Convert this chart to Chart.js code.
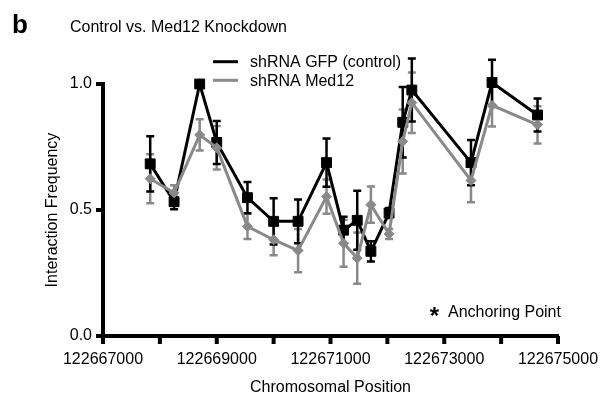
<!DOCTYPE html>
<html>
<head>
<meta charset="utf-8">
<script src="https://cdn.jsdelivr.net/npm/chart.js@4.4.0/dist/chart.umd.min.js"></script>
<style>
  html, body { margin:0; padding:0; background:#fff; }
</style>
</head>
<body>
<canvas id="chart" width="603" height="398"></canvas>
<script>
// values (chromosomal position, mean, SEM)
const positions   = [122667830, 122668250, 122668700, 122669000, 122669540, 122670000, 122670430, 122670930,
                     122671230, 122671470, 122671710, 122672030, 122672270, 122672430, 122673470, 122673840, 122674640];
const controlMean = [0.683, 0.533, 1.0, 0.768, 0.549, 0.455, 0.455, 0.688, 0.42, 0.459, 0.336, 0.488, 0.848, 0.976, 0.688, 1.006, 0.877];
const controlSem  = [0.11, 0.03, 0.01, 0.085, 0.062, 0.092, 0.087, 0.096, 0.053, 0.117, 0.04, 0.02, 0.14, 0.125, 0.09, 0.09, 0.065];
const med12Mean   = [0.624, 0.568, 0.798, 0.747, 0.435, 0.382, 0.339, 0.553, 0.368, 0.309, 0.521, 0.405, 0.772, 0.926, 0.617, 0.915, 0.838];
const med12Sem    = [0.097, 0.03, 0.062, 0.086, 0.05, 0.062, 0.086, 0.068, 0.093, 0.102, 0.072, 0.02, 0.127, 0.12, 0.086, 0.084, 0.074];
const xLabelStep = 2000;
const yTicks = [0, 0.5, 1.0];

const FONT = '"Liberation Sans", Arial, sans-serif';
const GREY = '#898989';

const toPoints = (ys) => positions.map((x, i) => ({x, y: ys[i]}));

// SEM whiskers, drawn under the lines and markers
const errorBars = {
  id: 'errorBars',
  beforeDatasetsDraw(chart) {
    const {ctx, scales: {x, y}} = chart;
    chart.data.datasets.forEach(ds => {
      ctx.save();
      ctx.strokeStyle = ds.borderColor;
      ctx.lineWidth = 2.5;
      ds.data.forEach((p, j) => {
        const px = x.getPixelForValue(p.x);
        const top = y.getPixelForValue(p.y + ds.sem[j]);
        const bot = y.getPixelForValue(p.y - ds.sem[j]);
        ctx.beginPath();
        ctx.moveTo(px, top); ctx.lineTo(px, bot);
        ctx.moveTo(px - 4, top); ctx.lineTo(px + 4, top);
        ctx.moveTo(px - 4, bot); ctx.lineTo(px + 4, bot);
        ctx.stroke();
      });
      ctx.restore();
    });
  }
};

// heavy outward tick marks, one per scale tick
const tickMarks = {
  id: 'tickMarks',
  afterDraw(chart) {
    const {ctx, chartArea} = chart;
    const x = chart.scales.x, y = chart.scales.y;
    ctx.save();
    ctx.fillStyle = '#000';
    x.ticks.forEach(t => {
      const px = x.getPixelForValue(t.value);
      ctx.fillRect(px - 2, chartArea.bottom, 4, 8);
    });
    y.ticks.forEach(t => {
      const py = y.getPixelForValue(t.value);
      ctx.fillRect(chartArea.left - 7, py - 2, 7, 4);
    });
    ctx.restore();
  }
};

// panel letter, caption, inline legend and the anchoring note
const decorations = {
  id: 'decorations',
  afterDraw(chart) {
    const ctx = chart.ctx;
    ctx.save();
    ctx.fillStyle = '#000';
    ctx.textBaseline = 'alphabetic';
    ctx.font = 'bold 26px ' + FONT;
    ctx.fillText('b', 12, 33);
    ctx.font = '16px ' + FONT;
    ctx.fillText('Control vs. Med12 Knockdown', 70, 31.5);

    const legendOrder = [...chart.data.datasets].sort((a, b) => a.legendIndex - b.legendIndex);
    legendOrder.forEach((ds, i) => {
      const ly = 61.7 + i * 18.6;
      ctx.strokeStyle = ds.borderColor;
      ctx.lineWidth = 3;
      ctx.beginPath();
      ctx.moveTo(213, ly); ctx.lineTo(238, ly);
      ctx.stroke();
      ctx.fillStyle = '#000';
      ctx.fillText(ds.label, 250, ly + 5.5);
    });

    ctx.font = 'bold 24px ' + FONT;
    ctx.textAlign = 'center';
    ctx.fillText('*', 434.5, 324);
    ctx.font = '16px ' + FONT;
    ctx.textAlign = 'left';
    ctx.fillText('Anchoring Point', 448, 316.5);
    ctx.restore();
  }
};

new Chart(document.getElementById('chart'), {
  type: 'line',
  data: {
    datasets: [
      {
        label: 'shRNA Med12',
        data: toPoints(med12Mean),
        sem: med12Sem,
        legendIndex: 1,
        order: 0,
        borderColor: GREY,
        backgroundColor: GREY,
        borderWidth: 3,
        pointStyle: 'rectRot',
        pointRadius: 5,
        pointBorderWidth: 1,
        tension: 0,
        clip: false
      },
      {
        label: 'shRNA GFP (control)',
        data: toPoints(controlMean),
        sem: controlSem,
        legendIndex: 0,
        order: 1,
        borderColor: '#000',
        backgroundColor: '#000',
        borderWidth: 3,
        pointStyle: 'rect',
        pointRadius: 7,
        pointBorderWidth: 1,
        tension: 0,
        clip: false
      }
    ]
  },
  options: {
    responsive: false,
    animation: false,
    devicePixelRatio: 1,
    layout: { padding: { left: 0, right: 45, top: 84, bottom: 0 } },
    plugins: { legend: { display: false }, tooltip: { enabled: false } },
    scales: {
      x: {
        type: 'linear',
        min: 122667000,
        max: 122675000,
        afterFit: s => { s.height = 62; },
        ticks: {
          stepSize: 1000,
          padding: 4,
          maxRotation: 0,
          autoSkip: false,
          color: '#000',
          font: { family: FONT, size: 16 },
          callback: v => (v - 122667000) % xLabelStep === 0 ? String(v) : ''
        },
        grid: { display: false, drawTicks: true, tickLength: 10 },
        border: { display: true, width: 4, color: '#000' },
        title: { display: true, text: 'Chromosomal Position', color: '#000',
                 font: { family: FONT, size: 16 }, padding: { top: 0, bottom: 1 } }
      },
      y: {
        min: 0,
        max: 1,
        afterFit: s => { s.width = 103; },
        afterBuildTicks: s => { s.ticks = yTicks.map(v => ({value: v})); },
        ticks: {
          padding: 5,
          color: '#000',
          font: { family: FONT, size: 16 },
          callback: v => v.toFixed(1)
        },
        grid: { display: false, drawTicks: true, tickLength: 6 },
        border: { display: true, width: 4, color: '#000' },
        title: { display: true, text: 'Interaction Frequency', color: '#000',
                 font: { family: FONT, size: 16 }, padding: { top: 43, bottom: 0 } }
      }
    }
  },
  plugins: [errorBars, tickMarks, decorations]
});
</script>
</body>
</html>
